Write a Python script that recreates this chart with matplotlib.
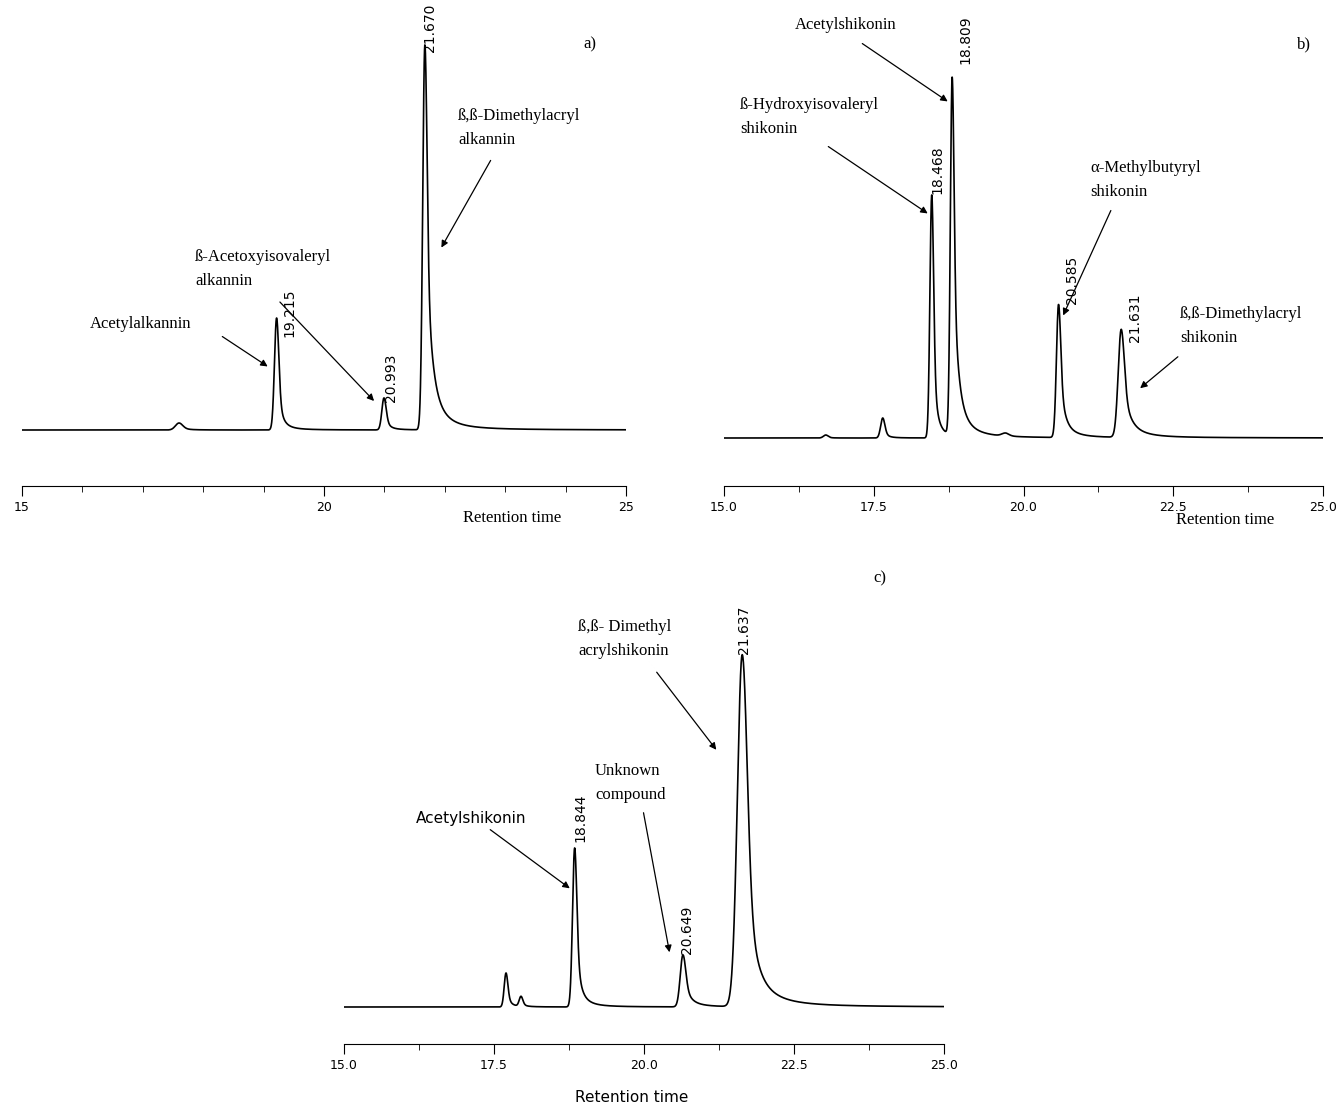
import numpy as np
import matplotlib
matplotlib.use("Agg")
import matplotlib.pyplot as plt

W, H = 1342, 1106
# peak tables: retention time, height, width(left sigma), tail
a_rt = [17.6, 19.215, 20.993, 21.670]
a_h = [7, 112, 32, 385]
a_w = [0.06, 0.035, 0.035, 0.035]
a_t = [0.1, 0.07, 0.07, 0.12]
b_rt = [16.7, 17.65, 18.468, 18.809, 19.7, 20.585, 21.631]
b_h = [3, 20, 243, 358, 3, 133, 108]
b_w = [0.04, 0.035, 0.03, 0.03, 0.06, 0.035, 0.05]
b_t = [0.05, 0.06, 0.06, 0.1, 0.06, 0.1, 0.15]
c_rt = [17.7, 17.95, 18.844, 20.649, 21.637]
c_h = [34, 10, 159, 52, 352]
c_w = [0.03, 0.03, 0.035, 0.045, 0.08]
c_t = [0.06, 0.05, 0.08, 0.12, 0.18]

serif = "Liberation Serif"
fig = plt.figure(figsize=(W/100, H/100), dpi=100)

def px(x, y):
    return (x / W, 1 - y / H)

def curve(rt, h, w, t):
    x = np.linspace(15, 25, 4000)
    y = np.zeros_like(x)
    for r, hh, ww, tt in zip(rt, h, w, t):
        left = np.exp(-0.5 * ((x - r) / ww) ** 2)
        right = 0.6 * np.exp(-0.5 * ((x - r) / ww) ** 2) + 0.4 / (1 + ((x - r) / tt) ** 2)
        y += hh * np.where(x < r, left, right)
    return x, y

def panel(rect, rt, h, w, t, ylim, ticks, labels, minor):
    ax = fig.add_axes(rect)
    x, y = curve(rt, h, w, t)
    ax.plot(x, y, color="black", lw=1.2)
    ax.set_xlim(15, 25)
    ax.set_ylim(*ylim)
    for s in ["top", "left", "right"]:
        ax.spines[s].set_visible(False)
    ax.set_yticks([])
    ax.set_xticks(ticks)
    ax.set_xticklabels(labels, fontsize=9)
    ax.set_xticks(minor, minor=True)
    ax.tick_params(axis="x", which="major", length=7, direction="out")
    ax.tick_params(axis="x", which="minor", length=4, direction="out")
    return ax

panel([22/W, 1-486/H, 604/W, 466/H], a_rt, a_h, a_w, a_t, (-56, 410),
      [15, 20, 25], ["15", "20", "25"], np.arange(15, 25.01, 1.0))
panel([724/W, 1-486/H, 599/W, 466/H], b_rt, b_h, b_w, b_t, (-48, 418),
      [15, 17.5, 20, 22.5, 25], ["15.0", "17.5", "20.0", "22.5", "25.0"], np.arange(15, 25.01, 1.25))
panel([344/W, 1-1044/H, 600/W, 454/H], c_rt, c_h, c_w, c_t, (-37, 417),
      [15, 17.5, 20, 22.5, 25], ["15.0", "17.5", "20.0", "22.5", "25.0"], np.arange(15, 25.01, 1.25))

def txt(x, y, s, **kw):
    kw.setdefault("family", serif)
    kw.setdefault("fontsize", 12)
    fig.text(*px(x, y), s, va="center", **kw)

def arrow(x0, y0, x1, y1):
    fig.add_artist(matplotlib.patches.FancyArrowPatch(px(x0, y0), px(x1, y1), transform=fig.transFigure,
                   arrowstyle="-|>", mutation_scale=10, color="black", lw=0.9))

def rot(x, y, s):
    fig.text(*px(x, y), s, rotation=90, ha="center", va="center", fontsize=10, family="DejaVu Sans")

# panel a
txt(583, 44, "a)")
txt(463, 518, "Retention time")
txt(90, 324, "Acetylalkannin")
arrow(220, 335, 270, 368)
txt(195, 269, "ß-Acetoxyisovaleryl\nalkannin", linespacing=1.6)
arrow(278, 300, 376, 403)
txt(458, 128, "ß,ß-Dimethylacryl\nalkannin", linespacing=1.6)
arrow(492, 158, 440, 250)
rot(289, 313, "19.215"); rot(391, 378, "20.993"); rot(430, 28, "21.670")

# panel b
txt(1297, 44, "b)")
txt(1176, 520, "Retention time")
txt(795, 25, "Acetylshikonin")
arrow(860, 42, 950, 103)
txt(740, 117, "ß-Hydroxyisovaleryl\nshikonin", linespacing=1.6)
arrow(826, 145, 930, 215)
txt(1090, 180, "α-Methylbutyryl\nshikonin", linespacing=1.6)
arrow(1112, 208, 1062, 318)
txt(1180, 326, "ß,ß-Dimethylacryl\nshikonin", linespacing=1.6)
arrow(1180, 355, 1138, 390)
rot(937, 170, "18.468"); rot(965, 40, "18.809"); rot(1072, 280, "20.585"); rot(1135, 318, "21.631")

# panel c
txt(873, 578, "c)")
txt(575, 1097, "Retention time", family="DejaVu Sans", fontsize=11)
txt(578, 639, "ß,ß- Dimethyl\nacrylshikonin", linespacing=1.6)
arrow(655, 670, 718, 752)
txt(595, 783, "Unknown\ncompound", linespacing=1.6)
arrow(643, 810, 670, 955)
txt(416, 818, "Acetylshikonin", family="DejaVu Sans", fontsize=11)
arrow(488, 828, 572, 890)
rot(580, 818, "18.844"); rot(687, 930, "20.649"); rot(744, 630, "21.637")

fig.savefig("out.png", dpi=100)
